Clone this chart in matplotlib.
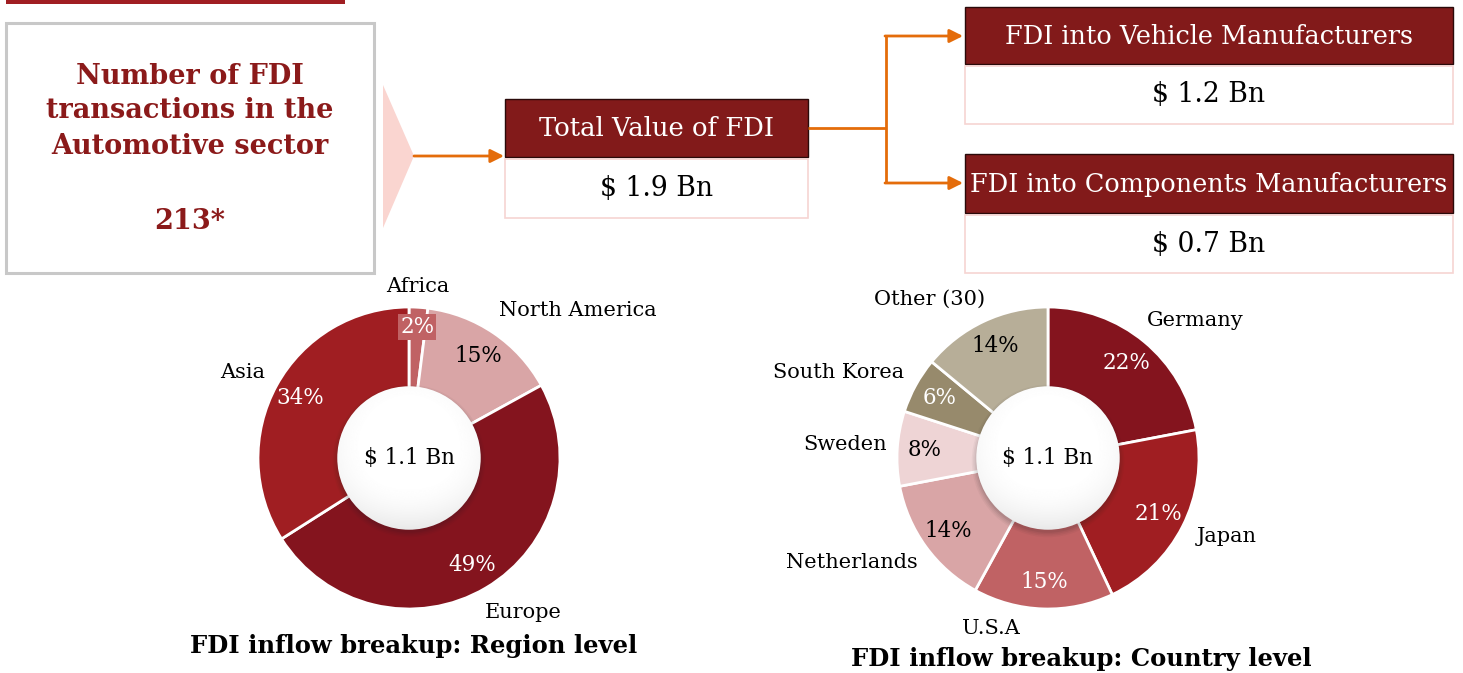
import numpy as np
import matplotlib
matplotlib.use("Agg")
import matplotlib.pyplot as plt
from matplotlib.patches import Rectangle, Circle, Polygon

# ---------------- data ----------------
region_labels = ["Africa", "North America", "Europe", "Asia"]
region_values = [2, 15, 49, 34]
country_labels = ["Germany", "Japan", "U.S.A", "Netherlands", "Sweden", "South Korea", "Other (30)"]
country_values = [22, 21, 15, 14, 8, 6, 14]
center_text = "$ 1.1 Bn"
region_title = "FDI inflow breakup: Region level"
country_title = "FDI inflow breakup: Country level"
left_box_lines = ["Number of FDI", "transactions in the", "Automotive sector"]
fdi_count = "213*"
total_label, total_value = "Total Value of FDI", "$ 1.9 Bn"
vehicle_label, vehicle_value = "FDI into Vehicle Manufacturers", "$ 1.2 Bn"
comp_label, comp_value = "FDI into Components Manufacturers", "$ 0.7 Bn"

# ---------------- style ----------------
W, H = 1463, 673
FONT = "DejaVu Serif"
plt.rcParams["font.family"] = [FONT]
DARK = "#84141E"
RED = "#A01E22"
MID = "#C06264"
LIGHT = "#D9A5A6"
PALE = "#EED4D5"
KHAKI = "#978A6C"
SAND = "#B7AE98"
BOXRED = "#821A1A"
TXTRED = "#8B1A1A"
ORANGE = "#E46C0A"

region_colors = [MID, LIGHT, DARK, RED]
region_pct_colors = ["white", "black", "white", "white"]
country_colors = [DARK, RED, MID, LIGHT, PALE, KHAKI, SAND]
country_pct_colors = ["white", "white", "white", "black", "black", "white", "black"]

region_label_pos = [(418, 286), (578, 311), (523, 613), (243, 373)]
country_label_pos = [(1195, 320), (1227, 537), (991, 628), (852, 563),
                     (845, 444), (839, 373), (930, 299)]

fig = plt.figure(figsize=(W / 100, H / 100), dpi=100)
fig.patch.set_facecolor("white")

bg = fig.add_axes([0, 0, 1, 1])
bg.set_xlim(0, W)
bg.set_ylim(H, 0)
bg.axis("off")


def ftext(x, y, s, **kw):
    kw.setdefault("ha", "center")
    kw.setdefault("va", "center")
    return fig.text(x / W, 1 - y / H, s, **kw)


# top red line
bg.add_patch(Rectangle((6, 0), 339, 3.5, facecolor=RED, edgecolor="none"))

# left grey box
bg.add_patch(Rectangle((6, 23), 368, 250, facecolor="white", edgecolor="#C8C8C8", lw=2.2))
for i, line in enumerate(left_box_lines):
    ftext(190, 76 + 35 * i, line, fontsize=19.5, fontweight="bold", color=TXTRED)
ftext(190, 222, fdi_count, fontsize=19.5, fontweight="bold", color=TXTRED)

# pink chevron
bg.add_patch(Polygon([(383, 85), (414, 156), (383, 228)], closed=True,
                     facecolor="#FAD5D0", edgecolor="none"))

arrow_kw = dict(arrowstyle="-|>", color=ORANGE, lw=2.0, mutation_scale=20,
                shrinkA=0, shrinkB=0)
bg.annotate("", xy=(504, 156), xytext=(414, 156), arrowprops=arrow_kw)
bg.plot([808, 886], [128, 128], color=ORANGE, lw=2.0, solid_capstyle="butt")
bg.plot([886, 886], [36, 183], color=ORANGE, lw=2.0, solid_capstyle="butt")
bg.annotate("", xy=(963, 36), xytext=(885, 36), arrowprops=arrow_kw)
bg.annotate("", xy=(963, 183), xytext=(885, 183), arrowprops=arrow_kw)


def header_box(x0, x1, y0, y1, y2, label, value, label_fs):
    bg.add_patch(Rectangle((x0, y0), x1 - x0, y1 - y0, facecolor=BOXRED,
                           edgecolor="#2a0a0a", lw=1.0))
    bg.add_patch(Rectangle((x0, y1 + 2), x1 - x0, y2 - y1 - 2, facecolor="white",
                           edgecolor="#F6D4D2", lw=1.2))
    ftext((x0 + x1) / 2, (y0 + y1) / 2 + 1, label, fontsize=label_fs, color="white")
    ftext((x0 + x1) / 2, (y1 + y2) / 2 + 1, value, fontsize=19.2, color="black")


header_box(505, 808, 99, 157, 218, total_label, total_value, 18.6)
header_box(965, 1453, 7, 64, 124, vehicle_label, vehicle_value, 18.4)
header_box(965, 1453, 154, 213, 273, comp_label, comp_value, 18.4)


# ---------------- donuts ----------------
def donut(cx, cy, R, values, colors, pct_colors, labels, label_pos, title, title_pos,
          pct_dist=0.82, boxed=None):
    ax = fig.add_axes([(cx - R) / W, 1 - (cy + R) / H, 2 * R / W, 2 * R / H])
    wedges, _ = ax.pie(values, colors=colors, startangle=90, counterclock=False,
                       radius=1.0,
                       wedgeprops=dict(width=0.56, edgecolor="white", linewidth=2))
    ax.set_xlim(-1.0, 1.0)
    ax.set_ylim(-1.0, 1.0)
    ax.set_aspect("equal")
    ax.axis("off")
    # soft shadow under center disc
    for k, a in enumerate([0.04, 0.05, 0.06, 0.08]):
        ax.add_patch(Circle((0, -0.02), 0.505 - 0.01 * k, facecolor="#202020",
                            edgecolor="none", alpha=a, zorder=3))
    # shaded white disc
    r = 0.475
    n = 300
    xs = np.linspace(-r, r, n)
    X, Y = np.meshgrid(xs, xs)
    D = np.sqrt(X ** 2 + (Y - 0.08) ** 2) / r
    shade = np.clip(1 - 0.12 * np.clip(D - 0.6, 0, None) ** 1.6
                    - 0.04 * np.clip(-Y / r, 0, None) ** 3, 0, 1)
    img = ax.imshow(shade, extent=(-r, r, -r, r), origin="lower", cmap="gray",
                    vmin=0, vmax=1, zorder=4, interpolation="bilinear")
    clip = Circle((0, 0), r, transform=ax.transData)
    img.set_clip_path(clip)
    ax.text(0, 0, center_text, ha="center", va="center", fontsize=15.5, color="black", zorder=6)
    # percent labels
    for i, w in enumerate(wedges):
        mid = np.deg2rad((w.theta1 + w.theta2) / 2)
        d = pct_dist
        if boxed is not None and i == boxed:
            d = 0.87
        t = ax.text(d * np.cos(mid), d * np.sin(mid), f"{values[i]}%", ha="center",
                    va="center", fontsize=15.5, color=pct_colors[i], zorder=6)
        if boxed is not None and i == boxed:
            t.set_bbox(dict(facecolor=colors[i], edgecolor="none", pad=1.5))
    for lab, (x, y) in zip(labels, label_pos):
        ftext(x, y, lab, fontsize=15, color="black")
    ftext(title_pos[0], title_pos[1], title, fontsize=17.5, fontweight="bold", color="black")
    return ax


donut(409, 458, 151, region_values, region_colors, region_pct_colors, region_labels,
      region_label_pos, region_title, (414, 646), boxed=0)
donut(1048, 458, 151, country_values, country_colors, country_pct_colors, country_labels,
      country_label_pos, country_title, (1081, 659))

fig.savefig("out.png", dpi=100, facecolor="white")
